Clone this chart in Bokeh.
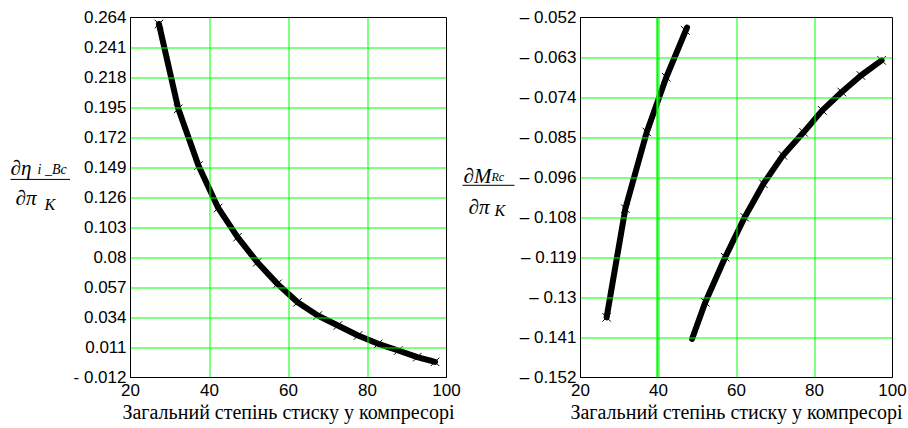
from bokeh.plotting import figure
from bokeh.layouts import row
from bokeh.models import Range1d, FixedTicker, Span
from bokeh.core.properties import value
from bokeh.embed import file_html
from bokeh.resources import INLINE

# ---------------- data ----------------
x_ticks = [20, 40, 60, 80, 100]
x_title = "Загальний степінь стиску у компресорі"

left_y_ticks = [-0.012, 0.011, 0.034, 0.057, 0.08, 0.103, 0.126, 0.149, 0.172, 0.195, 0.218, 0.241, 0.264]
left_y_labels = ["- 0.012", "0.011", "0.034", "0.057", "0.08", "0.103", "0.126", "0.149",
                 "0.172", "0.195", "0.218", "0.241", "0.264"]

left_x = [27.2, 32.1, 37.2, 42.2, 47.1, 52.1, 57.2, 62.3, 67.4, 72.5, 77.6, 82.7, 87.8, 92.6, 97.1]
left_y = [0.259, 0.194, 0.1505, 0.118, 0.0956, 0.0764, 0.0598, 0.0457, 0.0355, 0.0279, 0.0202,
          0.0138, 0.0087, 0.0036, 0.0000]

right_y_ticks = [-0.152, -0.14089, -0.12978, -0.11867, -0.10756, -0.09644, -0.08533, -0.07422, -0.06311, -0.052]
right_y_labels = ["\u2013 0.152", "\u2013 0.141", "\u2013 0.13", "\u2013 0.119", "\u2013 0.108",
                  "\u2013 0.096", "\u2013 0.085", "\u2013 0.074", "\u2013 0.063", "\u2013 0.052"]

r1_x = [26.7, 31.5, 37.0, 42.0, 46.9]
r1_y = [-0.1353, -0.1051, -0.0838, -0.0686, -0.0556]
r1_line_x = [26.7, 31.5, 37.0, 42.0, 47.3]
r1_line_y = [-0.1353, -0.1051, -0.0838, -0.0686, -0.0548]

r2_x = [52.0, 57.1, 62.1, 66.9, 71.9, 77.2, 82.0, 87.0, 91.9, 97.2]
r2_y = [-0.1311, -0.1186, -0.1075, -0.0982, -0.0903, -0.0839, -0.0778, -0.0727, -0.0681, -0.0639]
r2_line_x = [48.6] + r2_x
r2_line_y = [-0.1413] + r2_y

GREEN = "#00ff00"
TICK_FONT = "Liberation Sans"
SERIF = "Liberation Serif"
FRAME_H = 360


def make_fig(y_start, y_end, yticks, ylabels, border_left, frame_w, border_right):
    p = figure(frame_width=frame_w, frame_height=FRAME_H,
               x_range=Range1d(20, 100), y_range=Range1d(y_start, y_end),
               output_backend="svg", toolbar_location=None,
               min_border_left=border_left, min_border_right=border_right,
               min_border_top=17, min_border_bottom=51,
               background_fill_color="white", border_fill_color="white")
    p.outline_line_color = "black"
    p.outline_line_width = 1
    p.xaxis.ticker = FixedTicker(ticks=x_ticks)
    p.yaxis.ticker = FixedTicker(ticks=yticks)
    p.yaxis.major_label_overrides = {t: l for t, l in zip(yticks, ylabels)}
    for ax in (p.xaxis[0], p.yaxis[0]):
        ax.major_tick_in = 0
        ax.major_tick_out = 0
        ax.minor_tick_line_color = None
        ax.axis_line_color = "black"
        ax.major_label_text_font = TICK_FONT
        ax.major_label_text_font_size = "17px"
        ax.major_label_text_color = "black"
    p.yaxis.major_label_standoff = 4
    p.xaxis.major_label_standoff = 6
    p.xaxis.axis_label = x_title
    p.xaxis.axis_label_text_font = SERIF
    p.xaxis.axis_label_text_font_style = "normal"
    p.xaxis.axis_label_text_font_size = "20px"
    p.xaxis.axis_label_text_color = "black"
    p.xaxis.axis_label_standoff = 2
    p.xgrid[0].visible = False
    p.ygrid[0].visible = False
    # green grid as spans, nudged half a pixel so that 1px lines stay crisp
    dx = 0.5 * (100 - 20) / frame_w
    dy = 0.5 * (y_end - y_start) / FRAME_H
    for t in x_ticks[1:-1]:
        p.add_layout(Span(location=t + dx, dimension="height", line_color=GREEN, line_width=1))
    for t in yticks[1:-1]:
        p.add_layout(Span(location=t - dy, dimension="width", line_color=GREEN, line_width=1))
    return p


def frac_fig(width, items, bar):
    f = figure(width=width, height=428, x_range=Range1d(0, width), y_range=Range1d(428, 0),
               x_axis_type=None, y_axis_type=None, output_backend="svg", toolbar_location=None,
               min_border=0, background_fill_color="white", border_fill_color="white")
    f.outline_line_color = None
    f.grid.visible = False
    for (tx, ty, txt, size) in items:
        f.text(x=[tx], y=[ty], text=[txt], text_font=value(SERIF), text_font_style="italic",
               text_font_size=value(size), text_color="black", text_baseline="alphabetic",
               text_align="left")
    f.segment(x0=[bar[0]], y0=[bar[2]], x1=[bar[1]], y1=[bar[2]], line_color="black", line_width=1)
    return f


# ---------------- left fraction + panel ----------------
fl = frac_fig(70,
              [(10, 179, "\u2202\u03b7", "21px"), (37, 181, "i _Bc", "14px"),
               (15, 215, "\u2202\u03c0", "21px"), (44, 222, "K", "16px")],
              (10, 70, 192.5))
pl = make_fig(-0.012, 0.264, left_y_ticks, left_y_labels, 59, 316, 15)
pl.line(left_x, left_y, line_color="black", line_width=6, line_cap="round", line_join="round")
pl.scatter(left_x, left_y, marker="x", size=12, line_color="black", line_width=1)

# ---------------- right fraction + panel ----------------
fr = frac_fig(55,
              [(2, 189, "\u2202M", "21px"), (30, 190, "Rc", "12px"),
               (7, 225, "\u2202\u03c0", "21px"), (33, 229, "K", "16px")],
              (1, 53, 199.5))
pr = make_fig(-0.152, -0.052, right_y_ticks, right_y_labels, 63, 312, 18)
pr.add_layout(Span(location=39.7, dimension="height", line_color=GREEN, line_width=2))
pr.line(r1_line_x, r1_line_y, line_color="black", line_width=6, line_cap="round", line_join="round")
pr.scatter(r1_x, r1_y, marker="x", size=12, line_color="black", line_width=1)
pr.line(r2_line_x, r2_line_y, line_color="black", line_width=6, line_cap="round", line_join="round")
pr.scatter(r2_x, r2_y, marker="x", size=12, line_color="black", line_width=1)

layout = row(fl, pl, fr, pr, spacing=0)
open("out.html", "w").write(file_html(layout, INLINE))
